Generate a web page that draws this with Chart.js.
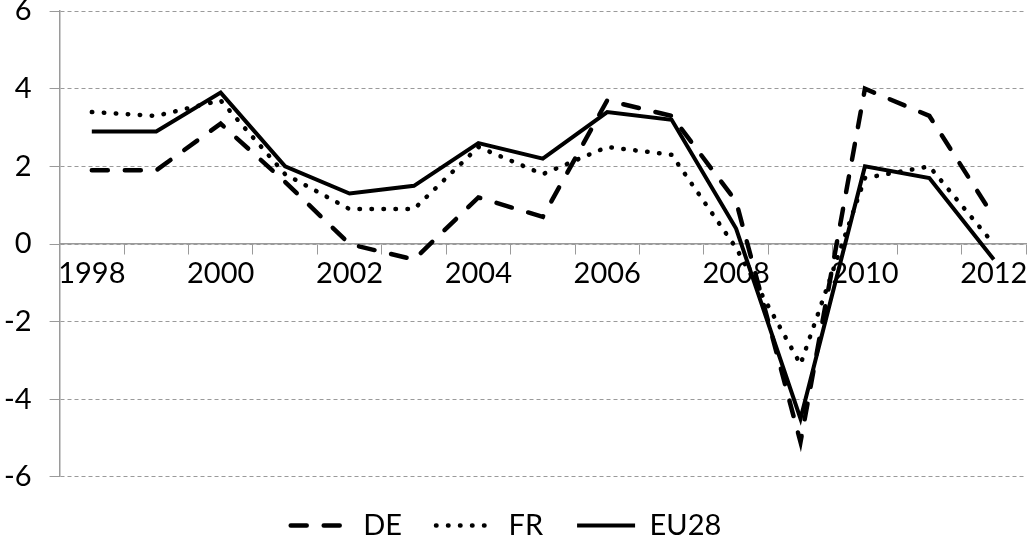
<!DOCTYPE html>
<html>
<head>
<meta charset="utf-8">
<script src="https://cdn.jsdelivr.net/npm/chart.js@4/dist/chart.umd.min.js"></script>
<style>
  body { margin: 0; background: #fff; overflow: hidden; }
  #wrap { width: 1030px; height: 551px; overflow: hidden; }
  #growthChart { display: block; margin-top: -13px; }
</style>
</head>
<body>
<div id="wrap"><canvas id="growthChart" width="1030" height="564"></canvas></div>
<script>
// GDP growth, % per year
const years = ['1998', '1999', '2000', '2001', '2002', '2003', '2004', '2005',
               '2006', '2007', '2008', '2009', '2010', '2011', '2012'];
const de   = [1.9, 1.9, 3.1, 1.6, 0.0, -0.4, 1.2, 0.7, 3.7, 3.3, 1.1, -5.1, 4.0, 3.3, 0.7];
const fr   = [3.4, 3.3, 3.7, 1.8, 0.9, 0.9, 2.5, 1.8, 2.5, 2.3, -0.1, -3.1, 1.7, 2.0, 0.0];
const eu28 = [2.9, 2.9, 3.9, 2.0, 1.3, 1.5, 2.6, 2.2, 3.4, 3.2, 0.4, -4.5, 2.0, 1.7, -0.4];

const FONT = 'Lato';
const GRID = '#9a9a9a';

document.addEventListener('DOMContentLoaded', () => {
    const ctx = document.getElementById('growthChart').getContext('2d');
    new Chart(ctx, {
        type: 'line',
        data: {
            labels: years,
            datasets: [
                { label: 'DE', data: de, borderWidth: 4.5, borderDash: [16, 17], borderCapStyle: 'round' },
                { label: 'FR', data: fr, borderWidth: 4.5, borderDash: [0.5, 11.5], borderCapStyle: 'round' },
                { label: 'EU28', data: eu28, borderWidth: 4, borderCapStyle: 'butt' }
            ].map(d => Object.assign({
                borderColor: '#000',
                backgroundColor: '#000',
                pointRadius: 0,
                tension: 0,
                fill: false
            }, d))
        },
        options: {
            responsive: false,
            animation: false,
            layout: { padding: { left: -14, right: 4, top: 0, bottom: 1 } },
            plugins: {
                tooltip: { enabled: false },
                legend: {
                    position: 'bottom',
                    labels: {
                        usePointStyle: true,
                        pointStyle: 'line',
                        pointStyleWidth: 58,
                        padding: 34,
                        color: '#000',
                        font: { family: FONT, size: 29 },
                        // the point style carries no dash, so copy it from the line
                        generateLabels: (chart) => {
                            const items = Chart.defaults.plugins.legend.labels.generateLabels(chart);
                            items.forEach((item) => {
                                const ds = chart.data.datasets[item.datasetIndex];
                                item.lineDash = ds.borderDash || [];
                                item.lineCap = ds.borderCapStyle;
                                item.lineWidth = ds.borderWidth;
                            });
                            return items;
                        }
                    }
                }
            },
            scales: {
                x: {
                    type: 'category',
                    position: { y: 0 },
                    offset: true,
                    grid: { offset: true, drawOnChartArea: false, drawTicks: true, tickLength: 10, color: GRID },
                    border: { color: GRID, width: 1.5 },
                    ticks: {
                        autoSkip: false,
                        maxRotation: 0,
                        padding: 2,
                        color: '#000',
                        font: { family: FONT, size: 29 },
                        callback: (v, i) => (i % 2 === 0 ? years[i] : '')
                    }
                },
                y: {
                    min: -6,
                    max: 6,
                    ticks: {
                        stepSize: 2,
                        padding: 18,
                        color: '#000',
                        font: { family: FONT, size: 29, lineHeight: 0.42 }
                    },
                    grid: { color: GRID, tickLength: 10, lineWidth: 1 },
                    border: { color: GRID, width: 1.5, dash: [4, 3] }
                }
            }
        }
    });
});
</script>
</body>
</html>
